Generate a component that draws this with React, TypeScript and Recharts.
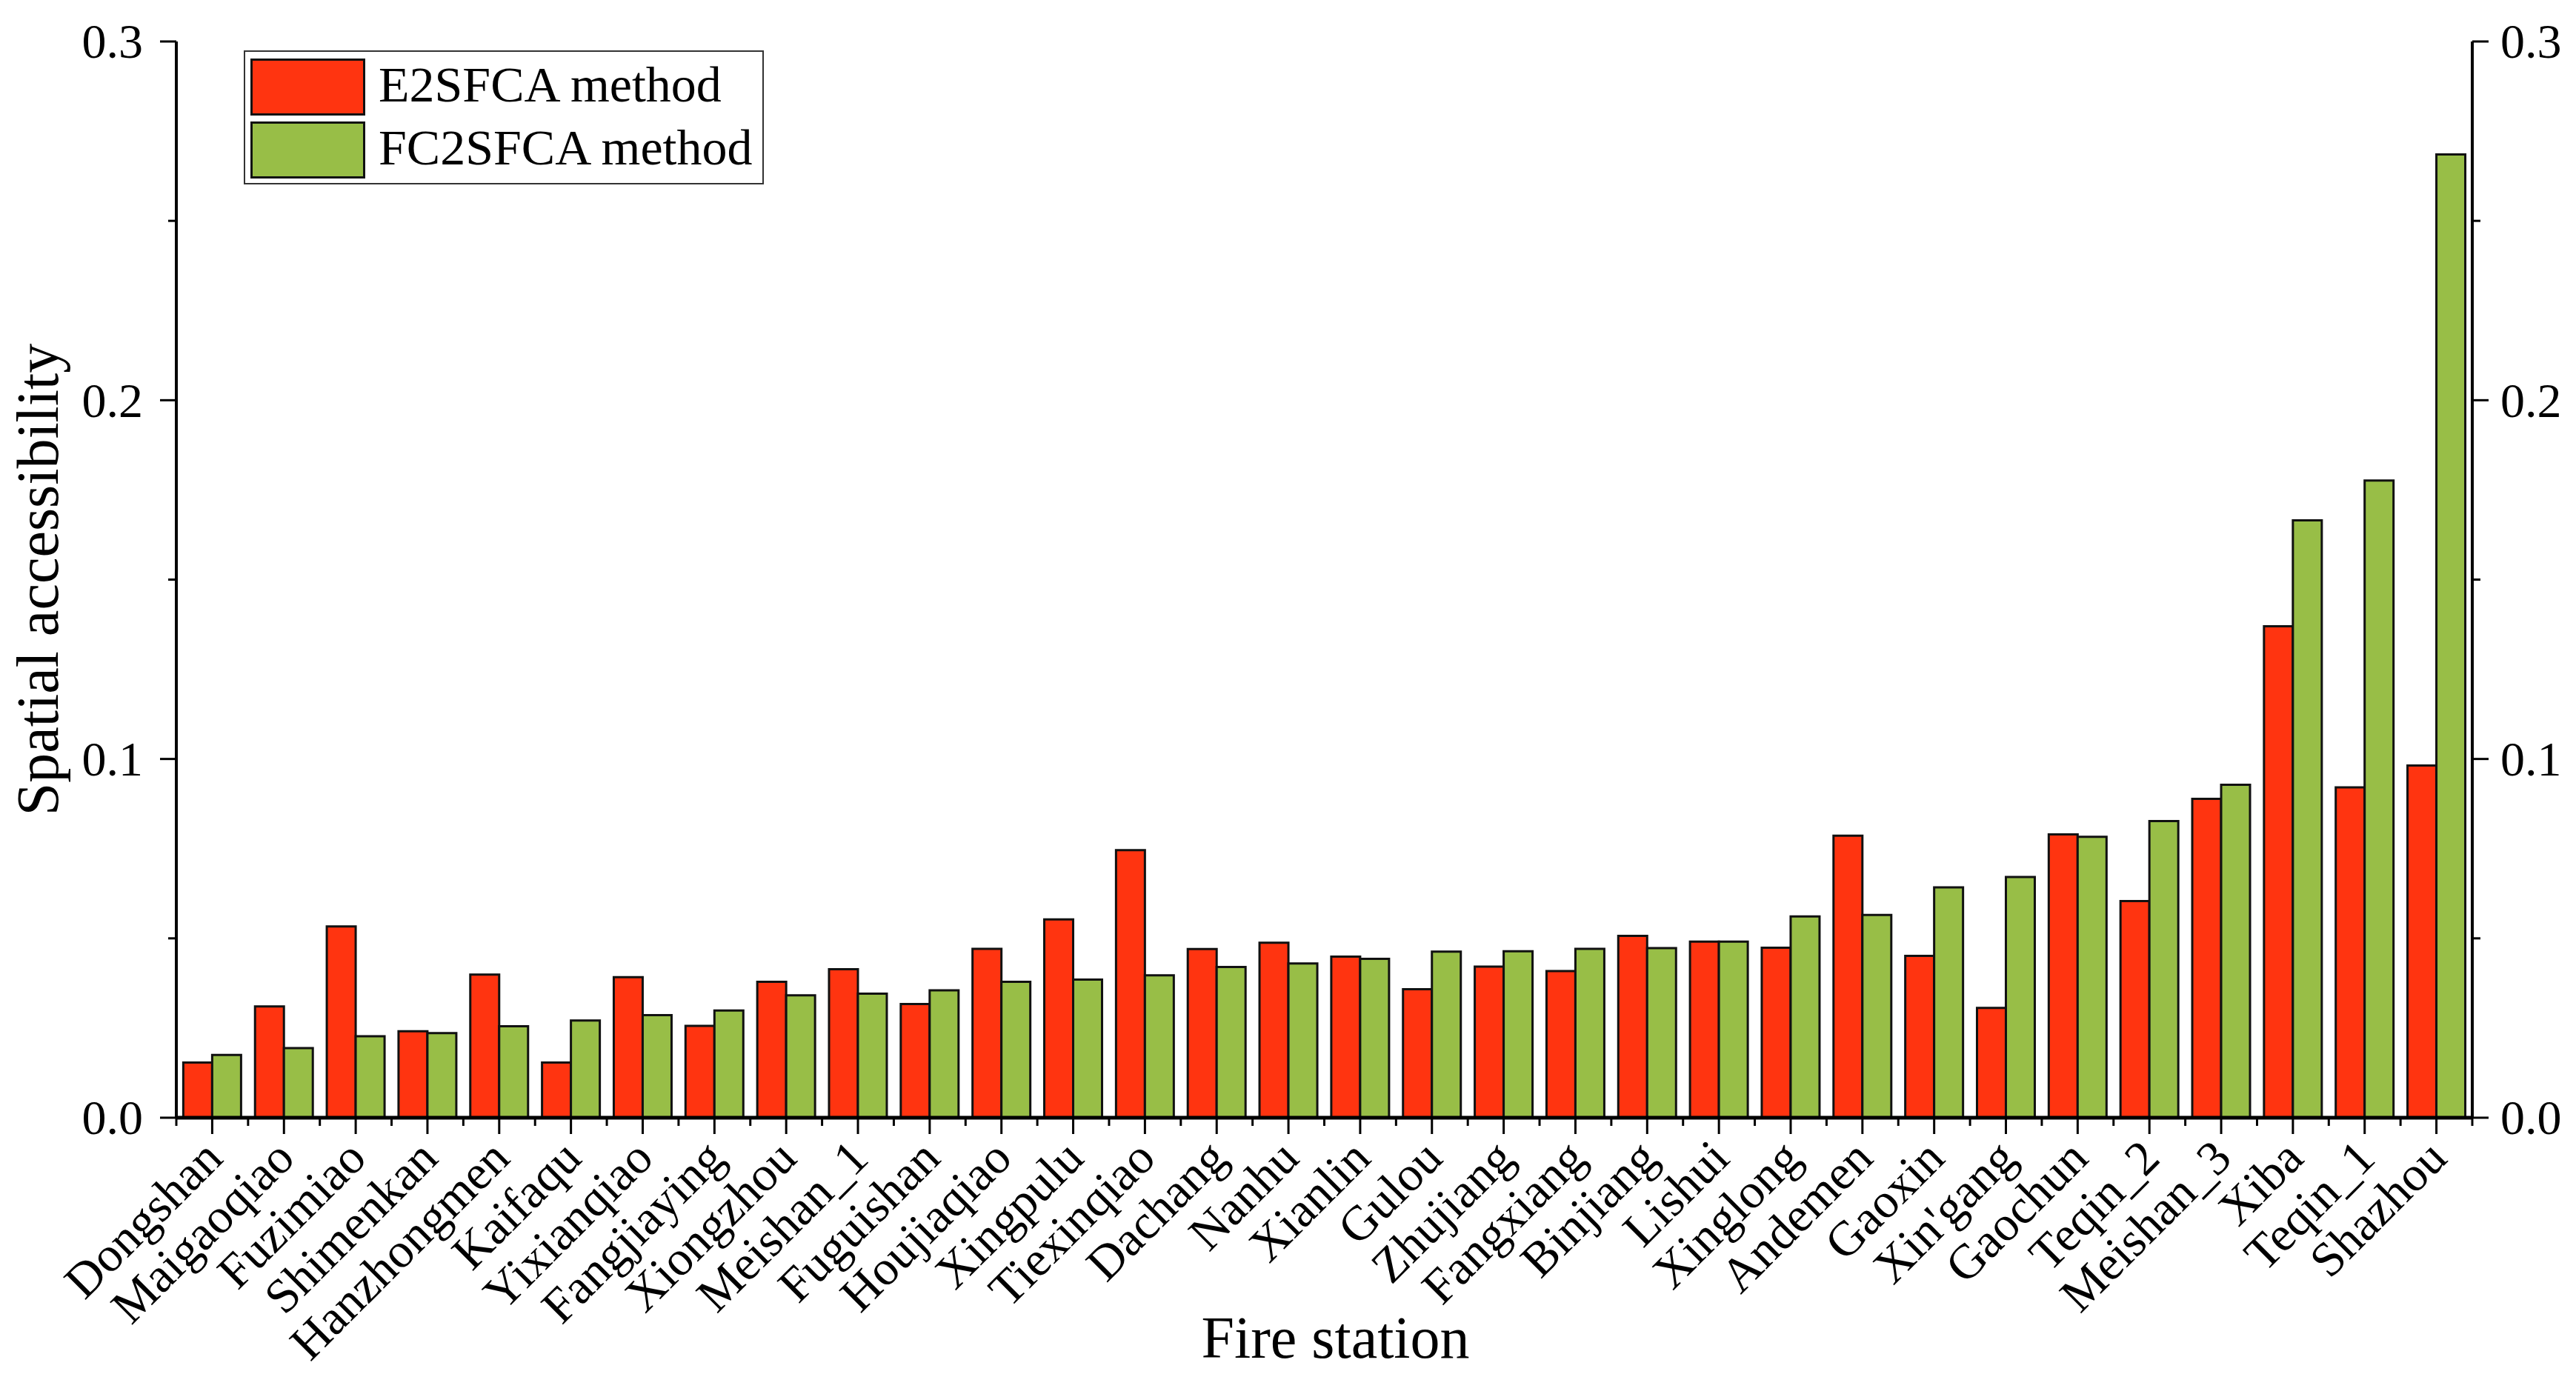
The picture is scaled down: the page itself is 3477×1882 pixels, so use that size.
import { BarChart, Bar, XAxis, YAxis, Legend, Label } from "recharts";

// fire stations, sorted as in the figure
const stations = [
  "Dongshan", "Maigaoqiao", "Fuzimiao", "Shimenkan", "Hanzhongmen", "Kaifaqu",
  "Yixianqiao", "Fangjiaying", "Xiongzhou", "Meishan_1", "Fuguishan", "Houjiaqiao",
  "Xingpulu", "Tiexinqiao", "Dachang", "Nanhu", "Xianlin", "Gulou", "Zhujiang",
  "Fangxiang", "Binjiang", "Lishui", "Xinglong", "Andemen", "Gaoxin", "Xin'gang",
  "Gaochun", "Teqin_2", "Meishan_3", "Xiba", "Teqin_1", "Shazhou",
];

const e2sfca = [
  0.0154, 0.031, 0.0533, 0.0241, 0.0399, 0.0154, 0.0392, 0.0256, 0.0379, 0.0414,
  0.0317, 0.0471, 0.0553, 0.0746, 0.047, 0.0488, 0.0449, 0.0358, 0.0421, 0.0409,
  0.0507, 0.0491, 0.0474, 0.0786, 0.0451, 0.0306, 0.079, 0.0604, 0.0889, 0.137,
  0.0921, 0.0982,
];

const fc2sfca = [
  0.0175, 0.0194, 0.0227, 0.0236, 0.0255, 0.0271, 0.0286, 0.0299, 0.0341, 0.0346,
  0.0355, 0.0379, 0.0385, 0.0397, 0.042, 0.043, 0.0443, 0.0463, 0.0464, 0.0471,
  0.0473, 0.0491, 0.0561, 0.0565, 0.0642, 0.0671, 0.0783, 0.0827, 0.0928, 0.1665,
  0.1776, 0.2685,
];

const yTicks = [0, 0.05, 0.1, 0.15, 0.2, 0.25, 0.3];

const seriesNames = ["E2SFCA method", "FC2SFCA method"];

const RED = "#FF3410";
const GREEN = "#98BE47";
const FONT = "'Liberation Serif', 'Times New Roman', serif";

const W = 3461;
const H = 1866;
const LEFT_W = 230;
const RIGHT_W = 132;
const TOP = 48;
const X_H = 365;
const PLOT_W = W - LEFT_W - RIGHT_W;
const BAND = PLOT_W / stations.length;

const data = stations.map((name, i) => ({
  name,
  e2sfca: e2sfca[i],
  fc2sfca: fc2sfca[i],
}));

const isMajor = (v: number) => Math.abs(v * 10 - Math.round(v * 10)) < 1e-6;

const LeftTick = (props: any) => {
  const { x, y, payload } = props;
  const major = isMajor(payload.value);
  const len = major ? 22 : 11;
  return (
    <g>
      <line x1={x} y1={y} x2={x - len} y2={y} stroke="#000" strokeWidth={3} />
      {major && (
        <text x={x - 45} y={y} dy="0.34em" textAnchor="end" fontSize={66} fontFamily={FONT} fill="#000">
          {payload.value.toFixed(1)}
        </text>
      )}
    </g>
  );
};

const RightTick = (props: any) => {
  const { x, y, payload } = props;
  const major = isMajor(payload.value);
  const len = major ? 22 : 11;
  return (
    <g>
      <line x1={x} y1={y} x2={x + len} y2={y} stroke="#000" strokeWidth={3} />
      {major && (
        <text x={x + 38} y={y} dy="0.34em" textAnchor="start" fontSize={66} fontFamily={FONT} fill="#000">
          {payload.value.toFixed(1)}
        </text>
      )}
    </g>
  );
};

const StationTick = (props: any) => {
  const { x, y, payload, index } = props;
  const half = BAND / 2;
  return (
    <g>
      <line x1={x} y1={y} x2={x} y2={y + 22} stroke="#000" strokeWidth={3} />
      <line x1={x - half} y1={y} x2={x - half} y2={y + 11} stroke="#000" strokeWidth={3} />
      {index === stations.length - 1 && (
        <line x1={x + half} y1={y} x2={x + half} y2={y + 11} stroke="#000" strokeWidth={3} />
      )}
      <text
        transform={`translate(${x + 17},${y + 58}) rotate(-45)`}
        textAnchor="end"
        fontSize={66}
        fontFamily={FONT}
        fill="#000"
      >
        {payload.value}
      </text>
    </g>
  );
};

const LegendBox = () => {
  const colors = [RED, GREEN];
  return (
    <div
      style={{
        position: "relative",
        width: 702,
        height: 181,
        border: "2px solid #333",
        boxSizing: "border-box",
        background: "#fff",
        fontFamily: FONT,
      }}
    >
      {seriesNames.map((s, i) => (
        <div key={s}>
          <div
            style={{
              position: "absolute",
              left: 7,
              top: 9 + i * 85,
              width: 155,
              height: 77,
              background: colors[i],
              border: "3px solid #111",
              boxSizing: "border-box",
            }}
          />
          <div
            style={{
              position: "absolute",
              left: 180,
              top: 2 + i * 85,
              fontSize: 68,
              lineHeight: "84px",
              color: "#000",
              whiteSpace: "nowrap",
            }}
          >
            {s}
          </div>
        </div>
      ))}
    </div>
  );
};

export default function App() {
  return (
    <BarChart
      width={W}
      height={H}
      data={data}
      margin={{ top: TOP, right: 0, left: 0, bottom: 0 }}
      barCategoryGap="9.7%"
      barGap={0}
    >
      <XAxis
        dataKey="name"
        height={X_H}
        interval={0}
        tickSize={0}
        tickMargin={0}
        tickLine={false}
        axisLine={{ stroke: "#000", strokeWidth: 5 }}
        tick={<StationTick />}
      >
        <Label
          content={(p: any) => {
            const vb = p.viewBox;
            return (
              <text x={vb.x + vb.width / 2 + 15} y={1825} textAnchor="middle" fontSize={80} fontFamily={FONT} fill="#000">
                Fire station
              </text>
            );
          }}
        />
      </XAxis>
      <YAxis
        yAxisId="left"
        width={LEFT_W}
        domain={[0, 0.3]}
        ticks={yTicks}
        interval={0}
        tickSize={0}
        tickMargin={0}
        tickLine={false}
        axisLine={{ stroke: "#000", strokeWidth: 4 }}
        tick={<LeftTick />}
      >
        <Label
          content={(p: any) => {
            const vb = p.viewBox;
            const cy = vb.y + vb.height / 2;
            return (
              <text transform={`translate(70,${cy}) rotate(-90)`} textAnchor="middle" fontSize={80} fontFamily={FONT} fill="#000">
                Spatial accessibility
              </text>
            );
          }}
        />
      </YAxis>
      <YAxis
        yAxisId="right"
        orientation="right"
        width={RIGHT_W}
        domain={[0, 0.3]}
        ticks={yTicks}
        interval={0}
        tickSize={0}
        tickMargin={0}
        tickLine={false}
        axisLine={{ stroke: "#000", strokeWidth: 4 }}
        tick={<RightTick />}
      />
      <Legend
        layout="vertical"
        align="center"
        verticalAlign="middle"
        wrapperStyle={{ left: 321, top: 60, width: 702, height: 181 }}
        content={<LegendBox />}
      />
      <Bar
        yAxisId="left"
        dataKey="e2sfca"
        name={seriesNames[0]}
        fill={RED}
        stroke="#111"
        strokeWidth={3}
        isAnimationActive={false}
      />
      <Bar
        yAxisId="right"
        dataKey="fc2sfca"
        name={seriesNames[1]}
        fill={GREEN}
        stroke="#111"
        strokeWidth={3}
        isAnimationActive={false}
      />
    </BarChart>
  );
}
